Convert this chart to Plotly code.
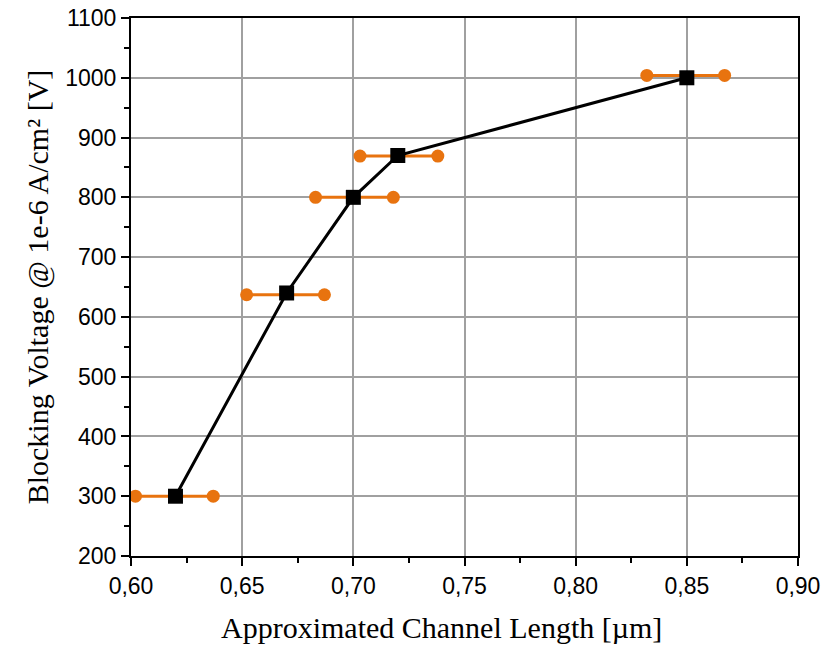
import plotly.graph_objects as go

# Data
channel_length = [0.62, 0.67, 0.70, 0.72, 0.85]
blocking_voltage = [300, 640, 800, 870, 1000]
err_y = [300, 637, 800, 869, 1004]
err_left = [0.602, 0.652, 0.683, 0.703, 0.832]
err_right = [0.637, 0.687, 0.718, 0.738, 0.867]

x_ticks = [0.60, 0.65, 0.70, 0.75, 0.80, 0.85, 0.90]
y_ticks = [200, 300, 400, 500, 600, 700, 800, 900, 1000, 1100]

x_title = "Approximated Channel Length [µm]"
y_title = "Blocking Voltage @ 1e-6 A/cm² [V]"

orange = "#E8730F"

fig = go.Figure()

for xl, xr, yy in zip(err_left, err_right, err_y):
    fig.add_trace(go.Scatter(
        x=[xl, xr], y=[yy, yy], mode="lines+markers",
        line=dict(color=orange, width=3),
        marker=dict(symbol="circle", size=13, color=orange),
        showlegend=False, hoverinfo="skip", cliponaxis=False))

fig.add_trace(go.Scatter(
    x=channel_length, y=blocking_voltage, mode="lines+markers",
    line=dict(color="black", width=3),
    marker=dict(symbol="square", size=15, color="black"),
    showlegend=False, cliponaxis=False))

axis_common = dict(
    showline=True, linecolor="black", linewidth=2, mirror=True,
    ticks="outside", ticklen=8, tickwidth=2, tickcolor="black",
    showgrid=True, gridcolor="#A0A0A0", gridwidth=1.5,
    zeroline=False, automargin=False,
    tickfont=dict(family="Liberation Sans, Arial, sans-serif", size=23, color="black"),
    minor=dict(ticks="outside", ticklen=5, tickwidth=1.5, tickcolor="black", showgrid=False),
)

title_font = dict(family="Liberation Serif, Times New Roman, serif", size=30, color="black")

fig.update_xaxes(
    range=[0.60, 0.90], tickvals=x_ticks, tickformat=".2f",
    minor_dtick=0.025,
    **axis_common)
fig.update_yaxes(
    range=[200, 1100], tickvals=y_ticks,
    title=dict(text=y_title, font=title_font, standoff=8),
    minor_dtick=50,
    **axis_common)

fig.add_annotation(
    text=x_title, xref="paper", yref="paper",
    x=0.465, y=-0.132, xanchor="center", yanchor="middle",
    showarrow=False, font=title_font)

fig.update_layout(
    width=837, height=645,
    margin=dict(l=131, r=39, t=18, b=89),
    paper_bgcolor="white", plot_bgcolor="white",
    separators=",.",
)

fig.write_html("out.html", config={"displayModeBar": False},
               post_script="document.body.style.margin='0';")
